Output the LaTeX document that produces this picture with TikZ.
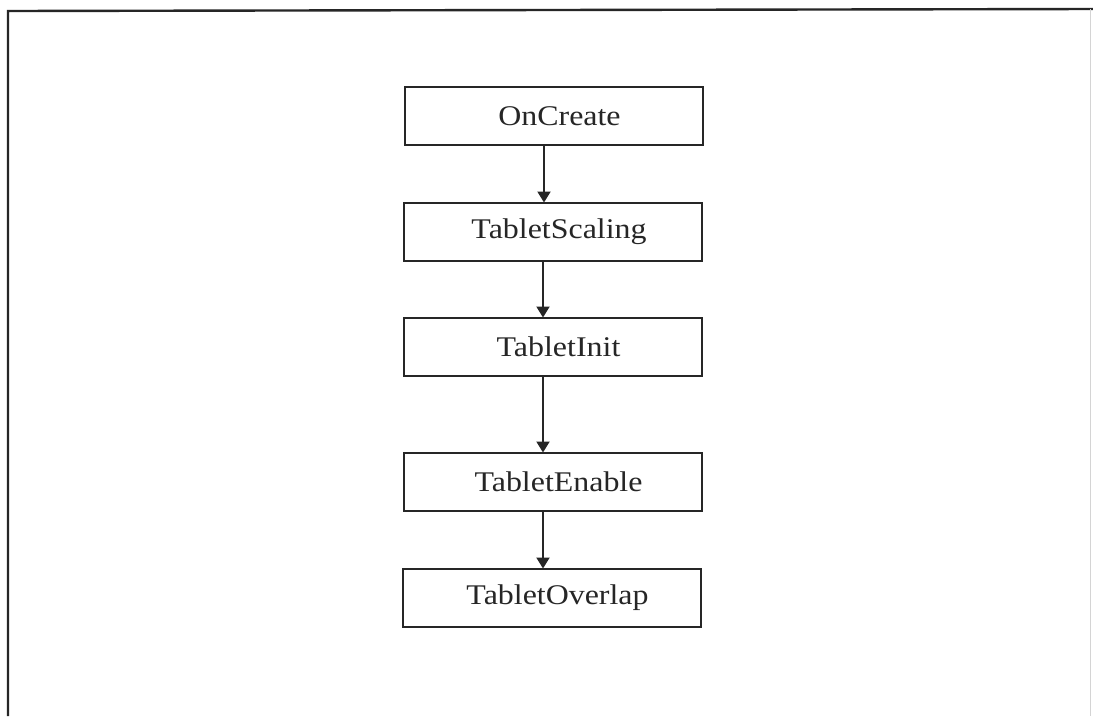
\documentclass[tikz,border=0pt]{standalone}
\usepackage{fontspec}
\setmainfont{Liberation Serif}[FakeStretch=1.12]
\usetikzlibrary{arrows.meta}
\definecolor{ink}{HTML}{262626}
\begin{document}
\begin{tikzpicture}[x=1pt,y=-1pt,
  stepbox/.style={draw=ink, line width=2pt, minimum width=298pt, minimum height=58pt,
    inner sep=0pt, text=ink, font=\fontsize{28.5}{32}\selectfont},
  flow/.style={draw=ink, line width=2pt, -{Triangle[length=11pt,width=13pt]}, shorten >=-1pt}]
  \useasboundingbox[fill=white] (0,0) rectangle (1093,716);
  % partial frame (top and left edges)
  \draw[ink, line width=2.4pt] (8,716) -- (8,11) -- (1093,9);
  \draw[ink!20, line width=0.8pt] (1090,9) -- (1090,716);
  % process steps
  \node[stepbox] (oncreate) at (553.5,116) {\hspace*{12pt}OnCreate};
  \node[stepbox] (scaling)  at (553,231.5) {\hspace*{12pt}TabletScaling};
  \node[stepbox] (init)     at (552.5,346.5) {\hspace*{12pt}TabletInit};
  \node[stepbox] (enable)   at (552.5,481.5) {\hspace*{12pt}TabletEnable};
  \node[stepbox] (overlap)  at (551.5,597.5) {\hspace*{12pt}TabletOverlap};
  % connectors
  \draw[flow] (oncreate.south -| 544,0) -- (scaling.north -| 544,0);
  \draw[flow] (scaling.south -| 543,0) -- (init.north -| 543,0);
  \draw[flow] (init.south -| 543,0) -- (enable.north -| 543,0);
  \draw[flow] (enable.south -| 543,0) -- (overlap.north -| 543,0);
\end{tikzpicture}
\end{document}
